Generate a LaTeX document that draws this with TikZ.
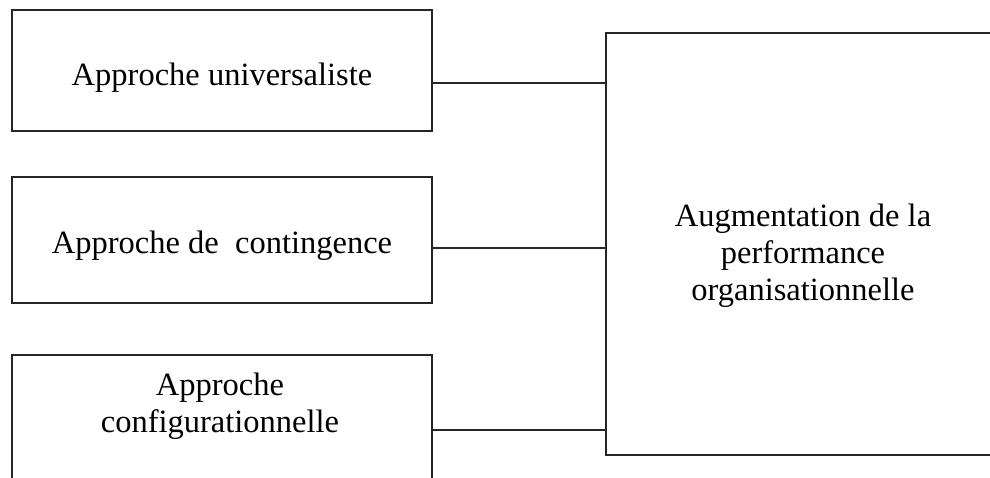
\documentclass[tikz,border=0pt]{standalone}
\usepackage{fontspec}
\setmainfont{Liberation Serif}
\begin{document}
\begin{tikzpicture}[x=1pt,y=-1pt,
  boxline/.style={draw=black!85,line width=1.6pt},
  txt/.style={font=\fontsize{32.5}{37.4}\selectfont,inner sep=0pt,align=center,text=black},
  conn/.style={draw=black!85,line width=1.6pt}]
\useasboundingbox (0,0) rectangle (990,477);
\clip (0,0) rectangle (990,477);
% left boxes
\node[boxline,minimum width=420pt,minimum height=121pt,inner sep=0pt] (b1) at (222,70.5) {};
\node[boxline,minimum width=420pt,minimum height=126pt,inner sep=0pt] (b2) at (222,240) {};
\node[boxline,minimum width=420pt,minimum height=150pt,inner sep=0pt] (b3) at (222,430) {};
% right box
\node[boxline,minimum width=420pt,minimum height=422pt,inner sep=0pt] (r) at (816,244) {};
% texts
\node[txt,anchor=base] (t1) at (222,85) {Approche universaliste};
\node[txt,anchor=base] (t2) at (222,253) {Approche de\ \ contingence};
\node[txt,anchor=base] (t3a) at (220,395) {Approche};
\node[txt,anchor=base] (t3b) at (220,432) {configurationnelle};
\node[txt,anchor=base] (tr1) at (803,226) {Augmentation de la};
\node[txt,anchor=base] (tr2) at (803,263) {performance};
\node[txt,anchor=base] (tr3) at (803,300) {organisationnelle};
% connectors
\coordinate (c1) at (b1.east |- 0,83);
\coordinate (c2) at (b2.east |- 0,248);
\coordinate (c3) at (b3.east |- 0,430);
\draw[conn] (c1) -- (c1 -| r.west);
\draw[conn] (c2) -- (c2 -| r.west);
\draw[conn] (c3) -- (c3 -| r.west);
\end{tikzpicture}
\end{document}
